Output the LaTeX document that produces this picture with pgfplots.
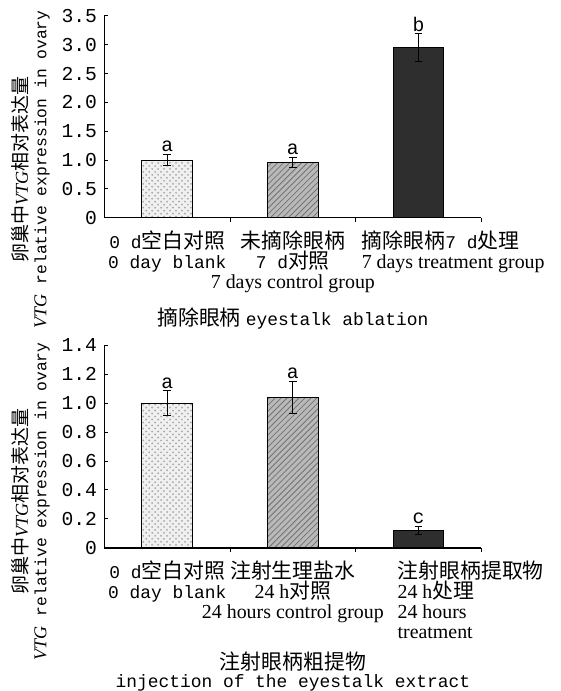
\documentclass[border=0pt]{standalone}
\usepackage{fontspec}
\usepackage{pgfplots}
\pgfplotsset{compat=1.18}
\usetikzlibrary{patterns}
\setmainfont{Liberation Serif}
\setmonofont{Liberation Mono}[Scale=0.9]
\newfontfamily\cjk{Noto Sans CJK SC}[Scale=1.05]
\newcommand{\C}[1]{{\cjk #1}}
\newcommand{\M}[1]{{\ttfamily #1}}
\begin{document}
\begin{tikzpicture}
\path (0pt,0pt) rectangle (282pt,-345.5pt);
\pgfplotsset{
  myaxis/.style={
    scale only axis, width=189.5pt, anchor=south west,
    axis lines*=left, axis line style={line width=0.6pt},
    xmin=-0.5, xmax=2.5, ymin=0,
    tick align=inside,
    xtick={0,1,2}, xtick style={draw=none},
    extra x ticks={0.5,1.5,2.5}, extra x tick labels={},
    extra x tick style={xtick style={draw=black, line width=0.5pt}, major tick length=2pt},
    ytick style={draw=black, line width=0.5pt}, major tick length=2pt,
    yticklabel style={font=\ttfamily\fontsize{11}{10}\selectfont, inner sep=0pt, xshift=-3.5pt},
    xticklabel style={align=center, anchor=north, inner sep=0pt, yshift=-4.5pt, font=\fontsize{10}{10}\selectfont},
    ybar, bar width=25.5pt, bar shift=0pt,
    every axis y label/.style={rotate=90, anchor=center, align=center, inner sep=0pt, font=\fontsize{9.1}{9.3}\selectfont},
    error bars/y dir=both, error bars/y explicit,
    error bars/error mark options={rotate=90, mark size=2pt, line width=0.5pt},
    error bars/error bar style={line width=0.6pt},
  },
  b1/.style={fill=gray!12, draw=black, line width=0.5pt, postaction={pattern=crosshatch dots, pattern color=gray!70}},
  b2/.style={fill=gray!55, draw=black, line width=0.5pt, postaction={pattern=north east lines, pattern color=black!55}},
  b3/.style={fill=black!82, draw=black, line width=0.5pt},
  lett/.style={draw=none, fill=none, nodes near coords, point meta=explicit symbolic,
    every node near coord/.style={anchor=south, inner sep=1pt, font=\ttfamily\fontsize{11}{10}\selectfont}},
}
% ---------- top panel ----------
\begin{axis}[myaxis, at={(52.5pt,-109.5pt)}, height=101.5pt, ymax=3.5,
  ytick={0,0.5,1.0,1.5,2.0,2.5,3.0,3.5},
  yticklabels={0,0.5,1.0,1.5,2.0,2.5,3.0,3.5},
  xticklabels={{\M{0 d}\C{空白对照}\\\M{0 day blank}},
               {\C{未摘除眼柄}\\\M{7 d}\C{对照}\\7 days control group},
               {\makebox[0pt][l]{\hspace{-28.5pt}\C{摘除眼柄}\M{7 d}\C{处理}}\\\makebox[0pt][l]{\hspace{-28.5pt}7 days treatment group}}},
  ylabel={\C{卵巢中}\textit{VTG}\C{相对表达量}\\\textit{VTG}\M{ relative expression in ovary}},
  ylabel style={at={(axis description cs:-0.195,0.24)}},
  xlabel={\C{摘除眼柄} \M{eyestalk ablation}},
  xlabel style={at={(axis description cs:0.5,0)}, anchor=center, inner sep=0pt, yshift=-50.5pt, font=\fontsize{10}{10}\selectfont},
]
\addplot[b1] coordinates {(0,1.00) +- (0,0.10)};
\addplot[b2] coordinates {(1,0.96) +- (0,0.09)};
\addplot[b3] coordinates {(2,2.95) +- (0,0.24)};
\addplot[lett] coordinates {(0,1.10) [a] (1,1.05) [a] (2,3.19) [b]};
\end{axis}
% ---------- bottom panel ----------
\begin{axis}[myaxis, at={(52.5pt,-275.5pt)}, height=102pt, ymax=1.4,
  ytick={0,0.2,0.4,0.6,0.8,1.0,1.2,1.4},
  yticklabels={0,0.2,0.4,0.6,0.8,1.0,1.2,1.4},
  xticklabels={{\M{0 d}\C{空白对照}\\\M{0 day blank}},
               {\C{注射生理盐水}\\24 h\C{对照}\\24 hours control group},
               {\makebox[0pt][l]{\hspace{-10.5pt}\C{注射眼柄提取物}}\\\makebox[0pt][l]{\hspace{-10.5pt}24 h\C{处理}}\\\makebox[0pt][l]{\hspace{-10.5pt}24 hours}\\\makebox[0pt][l]{\hspace{-10.5pt}treatment}}},
  ylabel={\C{卵巢中}\textit{VTG}\C{相对表达量}\\\textit{VTG}\M{ relative expression in ovary}},
  ylabel style={at={(axis description cs:-0.195,0.23)}},
  xlabel={\C{注射眼柄粗提物}\\\M{injection of the eyestalk extract}},
  xlabel style={at={(axis description cs:0.5,0)}, anchor=north, inner sep=0pt, yshift=-52pt, align=center, font=\fontsize{10}{9}\selectfont},
]
\addplot[b1] coordinates {(0,1.00) +- (0,0.085)};
\addplot[b2] coordinates {(1,1.04) +- (0,0.11)};
\addplot[b3] coordinates {(2,0.12) +- (0,0.028)};
\addplot[lett] coordinates {(0,1.085) [a] (1,1.15) [a] (2,0.148) [c]};
\end{axis}
\end{tikzpicture}
\end{document}
